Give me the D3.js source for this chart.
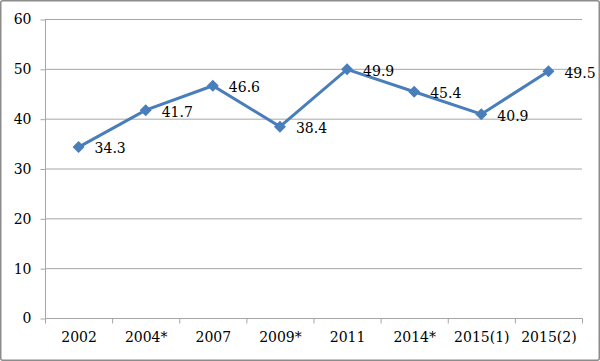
<!DOCTYPE html>
<html><head><meta charset="utf-8">
<script src="https://cdn.jsdelivr.net/npm/d3@7"></script>
<style>body{margin:0;background:#fff}svg{display:block}</style>
</head><body>
<script>
const categories = ["2002","2004*","2007","2009*","2011","2014*","2015(1)","2015(2)"];
const values = [34.3,41.7,46.6,38.4,49.9,45.4,40.9,49.5];
const yTicks = [0,10,20,30,40,50,60];

(function(){
const W=600,H=361;
const svg=d3.select("body").append("svg").attr("width",W).attr("height",H);
svg.append("rect").attr("x",0.75).attr("y",0.75).attr("width",W-1.5).attr("height",H-1.5)
  .attr("rx",2).attr("fill","#fff").attr("stroke","#8c8c8c").attr("stroke-width",1.5);

const pl=45,pr=582,pt=19,pb=318;
const x=d3.scaleBand().domain(categories).range([pl,pr]);
const y=d3.scaleLinear().domain([0,60]).range([pb,pt]);
const font="'DejaVu Serif', serif";

svg.append("g").selectAll("line").data(yTicks.filter(d=>d>0)).join("line")
  .attr("x1",pl).attr("x2",pr).attr("y1",d=>y(d)+0.5).attr("y2",d=>y(d)+0.5)
  .attr("stroke","#a6a6a6").attr("stroke-width",1);

const ya=svg.append("g").attr("transform",`translate(${pl+0.5},0.5)`)
  .call(d3.axisLeft(y).tickValues(yTicks).tickSize(5).tickPadding(9));
ya.select(".domain").attr("stroke","#a6a6a6").attr("d",`M0,${pt}V${pb}`);
ya.selectAll(".tick line").attr("stroke","#a6a6a6");
ya.selectAll(".tick text").attr("font-family",font).attr("font-size",14).attr("fill","#000");

const xa=svg.append("g").attr("transform",`translate(0.5,${pb+0.5})`)
  .call(d3.axisBottom(x).tickSize(0).tickPadding(14));
xa.select(".domain").attr("stroke","#a6a6a6").attr("d",`M${pl},0H${pr}`);
xa.selectAll(".tick text").attr("font-family",font).attr("font-size",14).attr("fill","#000");
const bounds=categories.map(c=>x(c)).concat([pr]);
xa.append("g").selectAll("line").data(bounds).join("line")
  .attr("x1",d=>d).attr("x2",d=>d).attr("y1",0).attr("y2",5).attr("stroke","#a6a6a6");

const cx=d=>x(d.c)+x.bandwidth()/2;
const data=categories.map((c,i)=>({c,v:values[i]}));
svg.append("path").datum(data)
  .attr("d",d3.line().x(cx).y(d=>y(d.v)))
  .attr("fill","none").attr("stroke","#4a7ebb").attr("stroke-width",3);
svg.append("g").selectAll("path").data(data).join("path")
  .attr("transform",d=>`translate(${cx(d)},${y(d.v)})`)
  .attr("d","M0,-6L6,0L0,6L-6,0Z").attr("fill","#4a7ebb");
svg.append("g").selectAll("text").data(data).join("text")
  .attr("x",d=>cx(d)+16).attr("y",d=>y(d.v)+1.5)
  .attr("dy","0.35em")
  .attr("font-family",font).attr("font-size",14).attr("fill","#000")
  .text(d=>d.v.toFixed(1));
})();
</script>
</body></html>
